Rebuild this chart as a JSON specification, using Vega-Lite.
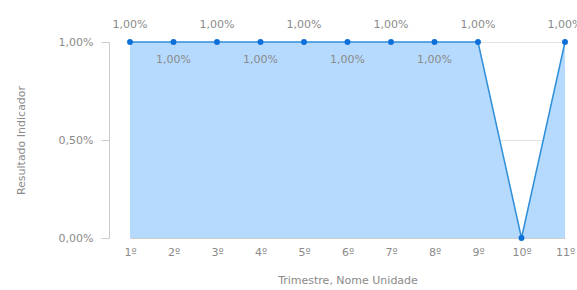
{
  "$schema": "https://vega.github.io/schema/vega-lite/v6.json",
  "autosize": {"type": "none"},
  "padding": {"left": 109, "top": 42, "right": 0, "bottom": 52},
  "width": 468,
  "height": 196,
  "background": "white",
  "config": {
    "locale": {"number": {"decimal": ",", "thousands": ".", "grouping": [3], "currency": ["R$", ""]}},
    "font": "DejaVu Sans",
    "view": {"stroke": null},
    "axis": {"labelFont": "DejaVu Sans", "titleFont": "DejaVu Sans", "labelColor": "#8a8a8a", "titleColor": "#8a8a8a", "labelFontSize": 11, "titleFontSize": 11, "titleFontWeight": "normal", "domainColor": "#cccccc", "tickColor": "#cccccc", "gridColor": "#e2e2e2"}
  },
  "data": {
    "values": [
      {"Trimestre": "1º", "Resultado": 0.01},
      {"Trimestre": "2º", "Resultado": 0.01},
      {"Trimestre": "3º", "Resultado": 0.01},
      {"Trimestre": "4º", "Resultado": 0.01},
      {"Trimestre": "5º", "Resultado": 0.01},
      {"Trimestre": "6º", "Resultado": 0.01},
      {"Trimestre": "7º", "Resultado": 0.01},
      {"Trimestre": "8º", "Resultado": 0.01},
      {"Trimestre": "9º", "Resultado": 0.01},
      {"Trimestre": "10º", "Resultado": 0},
      {"Trimestre": "11º", "Resultado": 0.01}
    ]
  },
  "encoding": {
    "x": {
      "field": "Trimestre", "type": "ordinal", "sort": null,
      "scale": {"type": "point", "range": [21, 456], "padding": 0},
      "axis": {"labelAngle": 0, "ticks": false, "labelPadding": 8, "title": "Trimestre, Nome Unidade", "titlePadding": 17, "grid": false}
    },
    "y": {
      "field": "Resultado", "type": "quantitative",
      "scale": {"domain": [0, 0.01], "nice": false},
      "axis": {"values": [0, 0.005, 0.01], "format": ".2%", "grid": true, "tickSize": 8, "labelPadding": 8, "title": "Resultado Indicador", "titlePadding": 32}
    }
  },
  "layer": [
    {"mark": {"type": "area", "color": "#b5dafd", "opacity": 1}},
    {"mark": {"type": "line", "color": "#2f8fd8", "strokeWidth": 1.5}},
    {"mark": {"type": "point", "filled": true, "color": "#0d6fd8", "size": 35, "opacity": 1}},
    {
      "transform": [{"filter": "indexof(['1º','3º','5º','7º','9º','11º'], datum.Trimestre) >= 0"}],
      "mark": {"type": "text", "dy": -17, "fontSize": 11, "color": "#8a8a8a", "font": "DejaVu Sans"},
      "encoding": {"text": {"field": "Resultado", "type": "quantitative", "format": ".2%"}}
    },
    {
      "transform": [{"filter": "indexof(['2º','4º','6º','8º'], datum.Trimestre) >= 0"}],
      "mark": {"type": "text", "dy": 18, "fontSize": 11, "color": "#8a8a8a", "font": "DejaVu Sans"},
      "encoding": {"text": {"field": "Resultado", "type": "quantitative", "format": ".2%"}}
    }
  ]
}
